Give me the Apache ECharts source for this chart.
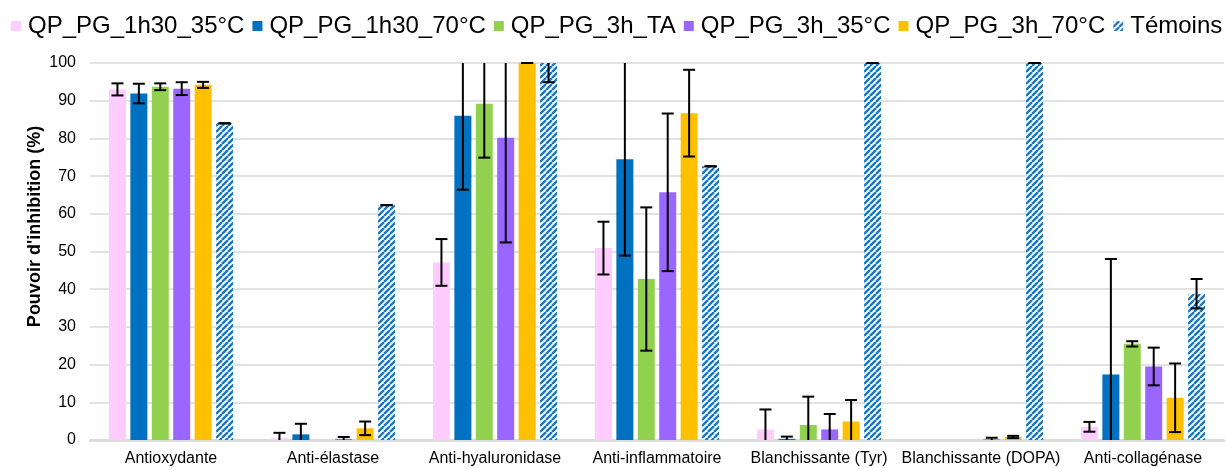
<!DOCTYPE html>
<html>
<head>
<meta charset="utf-8">
<script src="https://cdn.jsdelivr.net/npm/echarts@6/dist/echarts.min.js"></script>
<style>
html,body{margin:0;padding:0;background:#fff;}
#chart{width:1226px;height:468px;}
</style>
</head>
<body>
<div id="chart"></div>
<script>
const categories = ['Antioxydante','Anti-élastase','Anti-hyaluronidase','Anti-inflammatoire','Blanchissante (Tyr)','Blanchissante (DOPA)','Anti-collagénase'];
const seriesNames = ['QP_PG_1h30_35°C','QP_PG_1h30_70°C','QP_PG_3h_TA','QP_PG_3h_35°C','QP_PG_3h_70°C','Témoins'];

const vals_1h30_35 = [93.0, 0.5, 47.1, 50.9, 2.8, null, 3.5];
const errs_1h30_35 = [1.6, 1.4, 6.2, 7.0, 5.3, null, 1.3];
const vals_1h30_70 = [91.9, 1.5, 86.0, 74.5, 0.3, null, 17.4];
const errs_1h30_70 = [2.6, 2.8, 19.6, 25.6, 0.6, null, 30.6];
const vals_3h_TA   = [93.7, null, 89.2, 42.7, 4.0, null, 25.5];
const errs_3h_TA   = [0.9, null, 14.3, 19.0, 7.5, null, 0.7];
const vals_3h_35   = [93.2, 0.3, 80.2, 65.7, 2.8, 0.2, 19.5];
const errs_3h_35   = [1.7, 0.5, 27.8, 20.9, 4.1, 0.4, 5.0];
const vals_3h_70   = [94.2, 3.1, 100, 86.7, 4.9, 0.8, 11.2];
const errs_3h_70   = [0.8, 1.8, 0, 11.5, 5.7, 0.3, 9.1];
const vals_temoins = [84.0, 62.3, 100, 72.6, 100, 100, 38.8];
const errs_temoins = [0, 0, 5.1, 0, 0, 0, 3.9];

const yTicks = [0,10,20,30,40,50,60,70,80,90,100];

const allVals = [vals_1h30_35, vals_1h30_70, vals_3h_TA, vals_3h_35, vals_3h_70, vals_temoins];
const allErrs = [errs_1h30_35, errs_1h30_70, errs_3h_TA, errs_3h_35, errs_3h_70, errs_temoins];

// stripe pattern for Témoins
function makeStripe() {
  const s = 6;
  const c = document.createElement('canvas');
  c.width = s; c.height = s;
  const g = c.getContext('2d');
  g.fillStyle = '#ffffff';
  g.fillRect(0,0,s,s);
  g.strokeStyle = '#1a78c2';
  g.lineWidth = 2.4;
  g.beginPath();
  for (let k = -1; k <= 1; k++) {
    g.moveTo(k*s, s);
    g.lineTo(k*s + s, 0);
  }
  g.stroke();
  return c;
}
const stripe = makeStripe();

const colors = ['#FFCCFF','#0070C0','#92D050','#9966FF','#FFC000',{image: stripe, repeat: 'repeat'}];

const BAR_W = 17;
const BAR_GAP = 0.26;
const N = 6;
const FONT = 'Liberation Sans, Arial, sans-serif';

const series = [];
allVals.forEach((v, i) => {
  series.push({
    name: seriesNames[i],
    type: 'bar',
    data: v,
    barWidth: BAR_W,
    barGap: (BAR_GAP*100) + '%',
    itemStyle: {color: colors[i]},
    emphasis: {disabled: true},
    z: 2
  });
});
allVals.forEach((v, i) => {
  const d = [];
  v.forEach((m, c) => { if (m !== null && allErrs[i][c] !== null) d.push([c, m, allErrs[i][c]]); });
  series.push({
    type: 'custom',
    name: seriesNames[i] + '_err',
    z: 5,
    silent: true,
    data: d,
    encode: {x: 0, y: 1},
    renderItem: function (params, api) {
      const c = api.value(0), m = api.value(1), e = api.value(2);
      const off = (i - (N-1)/2) * BAR_W * (1 + BAR_GAP);
      const lowV = m - e, highV = m + e;
      const low = api.coord([c, Math.max(lowV, 0)]);
      const high = api.coord([c, Math.min(highV, 100)]);
      const x = low[0] + off;
      const hw = 6;
      const children = [{
        type: 'line',
        shape: {x1: x, y1: low[1], x2: x, y2: high[1]},
        style: {stroke: '#000', lineWidth: 2}
      }];
      if (lowV >= 0) children.push({type:'line', shape:{x1:x-hw,y1:low[1],x2:x+hw,y2:low[1]}, style:{stroke:'#000',lineWidth:2}});
      if (highV <= 100.001) children.push({type:'line', shape:{x1:x-hw,y1:high[1],x2:x+hw,y2:high[1]}, style:{stroke:'#000',lineWidth:2}});
      return {type: 'group', children: children};
    }
  });
});

const chart = echarts.init(document.getElementById('chart'), null, {renderer: 'canvas'});
chart.setOption({
  animation: false,
  color: colors,
  legend: {
    data: seriesNames,
    top: 14,
    left: 11,
    right: 0,
    padding: 0,
    itemWidth: 10,
    itemHeight: 10,
    itemGap: 8,
    textStyle: {fontFamily: FONT, fontSize: 24, color: '#000', padding: [0,0,0,2]},
    icon: 'rect'
  },
  grid: {left: 90, right: 2, top: 63, bottom: 28, containLabel: false},
  xAxis: {
    type: 'category',
    data: categories,
    axisLine: {lineStyle: {color: '#d9d9d9', width: 2.5}},
    axisTick: {show: false},
    axisLabel: {fontFamily: FONT, fontSize: 16, color: '#000', margin: 11, interval: 0}
  },
  yAxis: {
    type: 'value',
    min: 0, max: 100, interval: 10,
    name: "Pouvoir d'inhibition (%)",
    nameLocation: 'middle',
    nameGap: 46,
    nameMoveOverlap: false,
    nameTextStyle: {fontFamily: FONT, fontSize: 18, fontWeight: 'bold', color: '#000', padding: [0,0,0,50]},
    axisLine: {show: false},
    axisTick: {show: false},
    axisLabel: {fontFamily: FONT, fontSize: 16, color: '#000', margin: 14,
      formatter: function (v) { return yTicks.indexOf(v) >= 0 ? String(v) : ''; }},
    splitLine: {lineStyle: {color: '#d9d9d9', width: 1.5}}
  },
  series: series
});
</script>
</body>
</html>
